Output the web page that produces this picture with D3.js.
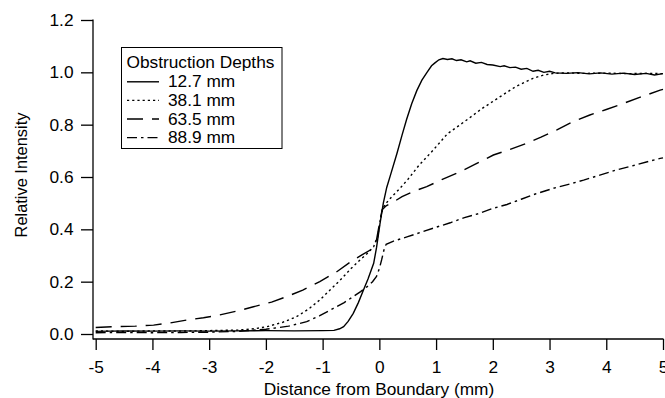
<!DOCTYPE html>
<html>
<head>
<meta charset="utf-8">
<script src="https://cdn.jsdelivr.net/npm/d3@7/dist/d3.min.js"></script>
<style>
  html, body { margin: 0; padding: 0; background: #fff; }
  svg { display: block; font-family: "Liberation Sans", Arial, sans-serif; }
</style>
</head>
<body>
<svg id="chart" width="665" height="398"></svg>
<script>
// ---- data ----
const seriesNames = ["12.7 mm", "38.1 mm", "63.5 mm", "88.9 mm"];
const legendTitle = "Obstruction Depths";
const xTickValues = [-5, -4, -3, -2, -1, 0, 1, 2, 3, 4, 5];
const yTickValues = [0.0, 0.2, 0.4, 0.6, 0.8, 1.0, 1.2];

const x127 = [-5,-4.5,-4,-3.5,-3,-2.5,-2,-1.5,-1,-0.8,-0.7,-0.63,-0.55,-0.46,-0.37,-0.28,-0.2,-0.1,-0.05,0.01,0.07,0.13,0.2,0.31,0.4,0.48,0.57,0.66,0.75,0.84,0.92,0.98,1.05,1.12,1.2,1.28,1.36,1.44,1.54,1.6,1.7,1.8,1.9,2.0,2.13,2.2,2.3,2.4,2.5,2.6,2.71,2.8,2.9,3.0,3.1,3.3,3.5,3.7,3.9,4.1,4.3,4.5,4.7,4.85,5.0];
const y127 = [0.010,0.012,0.011,0.012,0.011,0.012,0.013,0.012,0.013,0.014,0.020,0.028,0.048,0.079,0.120,0.168,0.210,0.270,0.330,0.420,0.500,0.560,0.610,0.690,0.760,0.820,0.880,0.930,0.970,1.000,1.025,1.036,1.048,1.053,1.049,1.052,1.045,1.048,1.040,1.044,1.035,1.038,1.030,1.028,1.022,1.025,1.018,1.020,1.012,1.015,1.004,1.008,1.000,1.004,0.998,0.996,0.999,0.994,0.998,0.993,0.997,0.992,0.996,0.990,0.995];

const x381 = [-5,-4.5,-4,-3.5,-3,-2.5,-2.2,-1.98,-1.7,-1.46,-1.25,-1.05,-0.87,-0.69,-0.5,-0.34,-0.2,-0.1,-0.03,0.02,0.06,0.12,0.2,0.365,0.5,0.7,0.95,1.2,1.54,1.8,2.13,2.4,2.71,2.9,3.07,3.3,3.6,4.0,4.4,4.7,5.0];
const y381 = [0.012,0.010,0.012,0.011,0.013,0.015,0.020,0.028,0.045,0.066,0.095,0.130,0.168,0.206,0.250,0.283,0.310,0.334,0.370,0.440,0.480,0.500,0.520,0.557,0.590,0.645,0.703,0.765,0.818,0.860,0.907,0.945,0.977,0.990,0.996,0.998,0.996,0.997,0.995,0.996,0.995];

const x635 = [-5,-4.69,-4.3,-3.98,-3.7,-3.4,-3.1,-2.81,-2.5,-2.22,-1.9,-1.63,-1.35,-1.05,-0.75,-0.46,-0.3,-0.16,-0.05,0.0,0.05,0.12,0.25,0.4,0.6,0.835,1.1,1.42,1.7,2.01,2.3,2.6,2.85,3.13,3.4,3.71,4.0,4.3,4.6,4.95,5.0];
const y635 = [0.025,0.028,0.030,0.034,0.042,0.053,0.062,0.073,0.088,0.104,0.122,0.143,0.168,0.200,0.238,0.283,0.303,0.321,0.360,0.420,0.475,0.490,0.505,0.525,0.545,0.563,0.590,0.620,0.650,0.684,0.705,0.729,0.752,0.780,0.810,0.837,0.858,0.881,0.905,0.932,0.935];

const x889 = [-5,-4.5,-4,-3.5,-3,-2.5,-2,-1.6,-1.28,-1.05,-0.81,-0.62,-0.46,-0.33,-0.22,-0.12,-0.05,0.0,0.04,0.08,0.12,0.25,0.5,0.75,1.0,1.25,1.5,1.75,2.0,2.25,2.5,2.75,3.07,3.3,3.6,3.9,4.18,4.5,4.75,4.95,5.0];
const y889 = [0.005,0.006,0.005,0.006,0.007,0.010,0.018,0.030,0.047,0.070,0.098,0.120,0.143,0.162,0.180,0.200,0.220,0.250,0.283,0.320,0.343,0.355,0.372,0.390,0.408,0.425,0.445,0.460,0.480,0.495,0.515,0.535,0.557,0.570,0.588,0.608,0.627,0.645,0.660,0.671,0.673];

const seriesX = [x127, x381, x635, x889];
const seriesY = [y127, y381, y635, y889];
const dashes = [null, "2.2,3", "16,9", "10,4,2.5,4"];

// ---- layout ----
const svg = d3.select("#chart");
const font = 17.3;
const x = d3.scaleLinear().domain([-5, 5]).range([95.7, 663]);
const y = d3.scaleLinear().domain([0, 1.2]).range([334, 20]);
const axisX = 93;    // y-axis line position
const axisY = 339;   // x-axis line position

// y axis
const yAxis = d3.axisLeft(y).tickValues(yTickValues).tickFormat(d3.format(".1f"))
  .tickSizeInner(12).tickSizeOuter(0).tickPadding(7.5);
const gy = svg.append("g").attr("transform", `translate(${axisX},0)`).call(yAxis);
gy.select(".domain").remove();
gy.append("line").attr("x1", 0).attr("x2", 0).attr("y1", y(1.2) - 0.5).attr("y2", axisY + 0.5)
  .attr("stroke", "#000").attr("stroke-width", 1.3);

// x axis
const xAxis = d3.axisBottom(x).tickValues(xTickValues).tickFormat(d => String(d))
  .tickSizeInner(11).tickSizeOuter(0).tickPadding(10.5);
const gx = svg.append("g").attr("transform", `translate(0,${axisY})`).call(xAxis);
gx.select(".domain").remove();
gx.append("line").attr("x1", axisX).attr("x2", x(5) + 0.5).attr("y1", 0).attr("y2", 0)
  .attr("stroke", "#000").attr("stroke-width", 1.3);

[gx, gy].forEach(g => {
  g.selectAll(".tick line").attr("stroke", "#000").attr("stroke-width", 1.3);
  g.selectAll(".tick text").attr("fill", "#000").style("font-size", font + "px")
    .style("font-family", '"Liberation Sans", Arial, sans-serif');
});

// axis titles
svg.append("text").attr("x", 379).attr("y", 395).attr("text-anchor", "middle")
  .style("font-size", font + "px").text("Distance from Boundary (mm)");
svg.append("text").attr("transform", "translate(26.5,175) rotate(-90)").attr("text-anchor", "middle")
  .style("font-size", "16.4px").text("Relative Intensity");

// lines
const line = d3.line().x(d => x(d[0])).y(d => y(d[1]));
seriesX.forEach((xs, i) => {
  const pts = xs.map((v, j) => [v, seriesY[i][j]]);
  svg.append("path").datum(pts).attr("d", line)
    .attr("fill", "none").attr("stroke", "#000").attr("stroke-width", 1.4)
    .attr("stroke-dasharray", dashes[i]);
});

// legend
const lg = svg.append("g");
lg.append("rect").attr("x", 121.5).attr("y", 47.5).attr("width", 160.5).attr("height", 101)
  .attr("fill", "#fff").attr("stroke", "#000").attr("stroke-width", 1);
lg.append("text").attr("x", 126.5).attr("y", 68.3).style("font-size", font + "px").text(legendTitle);
const rowBase = [87.3, 105.9, 124.5, 143.1];
seriesNames.forEach((name, i) => {
  lg.append("line").attr("x1", 127).attr("x2", 159).attr("y1", rowBase[i] - 5.5).attr("y2", rowBase[i] - 5.5)
    .attr("stroke", "#000").attr("stroke-width", 1.4).attr("stroke-dasharray", dashes[i]);
  lg.append("text").attr("x", 168).attr("y", rowBase[i]).style("font-size", font + "px").text(name);
});
</script>
</body>
</html>
